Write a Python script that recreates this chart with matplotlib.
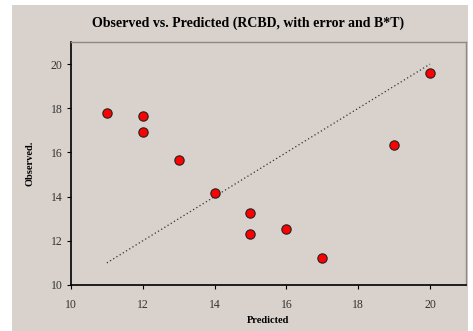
import matplotlib.pyplot as plt
from matplotlib.patches import Rectangle

# Data
predicted = [11, 12, 12, 13, 14, 15, 15, 16, 17, 19, 20]
observed = [17.8, 17.65, 16.92, 15.68, 14.15, 13.28, 12.33, 12.54, 11.2, 16.35, 19.6]
line_x = [11, 20]
line_y = [11, 20]

bg = '#d9d1cb'
plt.rcParams['font.family'] = ['Liberation Serif', 'DejaVu Serif']

fig = plt.figure(figsize=(4.73, 3.31), dpi=100, facecolor='white')
# chart area background (white margin on left, top and right)
fig.add_artist(Rectangle((12 / 473, 0), 456 / 473, 1 - 5 / 331,
                         transform=fig.transFigure, facecolor=bg,
                         edgecolor='none', zorder=-10))

ax = fig.add_axes([0.150, 0.139, 0.835, 0.734], facecolor=bg)

ax.plot(line_x, line_y, linestyle=(0, (1, 2)), color='#333333', linewidth=0.9)
ax.scatter(predicted, observed, s=45, color='#ff0000', edgecolors='#222222',
           linewidths=0.8, zorder=3)

ax.set_xlim(10, 21)
ax.set_ylim(10, 21)
ax.set_xticks([10, 12, 14, 16, 18, 20])
ax.set_yticks([10, 12, 14, 16, 18, 20])

for side in ['top', 'right']:
    ax.spines[side].set_color('#8a8a8a')
    ax.spines[side].set_linewidth(1.0)
for side in ['left', 'bottom']:
    ax.spines[side].set_color('black')
    ax.spines[side].set_linewidth(1.2)

ax.tick_params(axis='x', direction='out', length=3, pad=7, labelsize=8.5,
               labelcolor='#333333')
ax.tick_params(axis='y', direction='out', length=3, pad=3, labelsize=8.5,
               labelcolor='#333333')

ax.set_xlabel('Predicted', fontsize=7.5, fontweight='bold', labelpad=4)
ax.set_ylabel('Observed.', fontsize=7.5, fontweight='bold', labelpad=12)
fig.text(0.524, 0.93, 'Observed vs. Predicted (RCBD, with error and B*T)',
         ha='center', va='center', fontsize=10, fontweight='bold')

fig.savefig('out.png', dpi=100, facecolor='white')
